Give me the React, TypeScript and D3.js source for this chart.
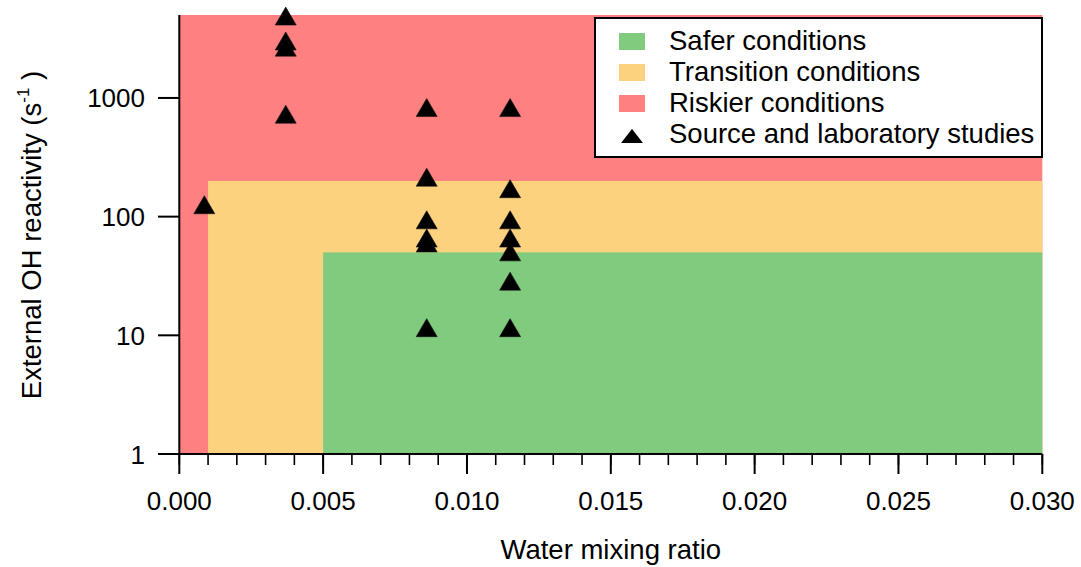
import React from "react";
import * as d3 from "d3";

// Risk zones (water mixing ratio lower bound, OH reactivity upper bound)
const zoneNames = ["Riskier conditions", "Transition conditions", "Safer conditions"];
const zoneXMin = [0, 0.001, 0.005];
const zoneYMax = [5000, 200, 50];
const zoneColors = ["#ff8080", "#fdd27f", "#80cb7e"];

// Source and laboratory studies
const studyX = [
  0.00087,
  0.0037, 0.0037, 0.0037, 0.0037,
  0.0086, 0.0086, 0.0086, 0.0086, 0.0086, 0.0086,
  0.0115, 0.0115, 0.0115, 0.0115, 0.0115, 0.0115, 0.0115,
];
const studyY = [
  126,
  4900, 3020, 2680, 730,
  830, 215, 94, 66, 60, 11.6,
  830, 172, 94, 66, 50.5, 28.6, 11.6,
];

const xMajorTicks = [0, 0.005, 0.01, 0.015, 0.02, 0.025, 0.03];
const xMinorTicks = d3.range(0, 31).map((i) => i / 1000);
const yTicks = [1, 10, 100, 1000];

const legendItems = ["Safer conditions", "Transition conditions", "Riskier conditions"];
const legendColors = ["#80cb7e", "#fdd27f", "#ff8080"];
const legendMarkerLabel = "Source and laboratory studies";

const W = 1081;
const H = 567;
const left = 179.3;
const right = 1042.3;
const top = 15;
const bottom = 454;
const font = "'Liberation Sans', Arial, Helvetica, sans-serif";

export default function App() {
  const x = d3.scaleLinear().domain([0, 0.03]).range([left, right]);
  const y = d3.scaleLog().domain([1, 5000]).range([bottom, top]);

  const tri = (cx: number, cy: number, w: number, h: number) =>
    `M${cx - w / 2},${cy + h / 2}L${cx + w / 2},${cy + h / 2}L${cx},${cy - h / 2}Z`;

  const legX = 595;
  const legY = 18;
  const legW = 447;
  const legH = 139;
  const rowBase = [50, 81, 112, 143];

  return (
    <svg
      width={W}
      height={H}
      style={{ position: "absolute", left: 0, top: 0, background: "#fff" }}
      fontFamily={font}
    >
      {/* zones */}
      {zoneNames.map((n, i) => (
        <rect
          key={n}
          x={x(zoneXMin[i])}
          y={y(zoneYMax[i])}
          width={x(0.03) - x(zoneXMin[i])}
          height={y(1) - y(zoneYMax[i])}
          fill={zoneColors[i]}
        />
      ))}

      {/* study markers */}
      {studyX.map((sx, i) => (
        <path key={i} d={tri(x(sx), y(studyY[i]), 21, 18)} fill="#000" stroke="#111" strokeWidth={0.6} />
      ))}

      {/* x axis */}
      <line x1={left} x2={right} y1={bottom} y2={bottom} stroke="#000" strokeWidth={2} />
      {xMinorTicks.map((t) => (
        <line key={"m" + t} x1={x(t)} x2={x(t)} y1={bottom} y2={bottom + 11} stroke="#000" strokeWidth={1.6} />
      ))}
      {xMajorTicks.map((t) => (
        <g key={"M" + t}>
          <line x1={x(t)} x2={x(t)} y1={bottom} y2={bottom + 20} stroke="#000" strokeWidth={2} />
          <text x={x(t)} y={510} textAnchor="middle" fontSize={26} fill="#000">
            {d3.format(".3f")(t)}
          </text>
        </g>
      ))}
      <text x={(left + right) / 2} y={559} textAnchor="middle" fontSize={27.5} fill="#000">
        Water mixing ratio
      </text>

      {/* y axis */}
      <line x1={left} x2={left} y1={top} y2={bottom} stroke="#000" strokeWidth={2} />
      {yTicks.map((t) => (
        <g key={"y" + t}>
          <line x1={158} x2={left} y1={y(t)} y2={y(t)} stroke="#000" strokeWidth={2} />
          <text x={145} y={y(t) + 9.5} textAnchor="end" fontSize={26} fill="#000">
            {d3.format("d")(t)}
          </text>
        </g>
      ))}
      <text transform="translate(41,235) rotate(-90)" textAnchor="middle" fontSize={27.5} fill="#000">
        External OH reactivity (s
        <tspan fontSize={17} dy={-12}>-1</tspan>
        <tspan dy={12}> )</tspan>
      </text>

      {/* legend */}
      <rect x={legX} y={legY} width={legW} height={legH} fill="#fff" stroke="#000" strokeWidth={2} />
      {legendItems.map((n, i) => (
        <g key={n}>
          <rect x={619} y={rowBase[i] - 17} width={26} height={17} fill={legendColors[i]} />
          <text x={669} y={rowBase[i]} fontSize={27.5} fill="#000">
            {n}
          </text>
        </g>
      ))}
      <path d={tri(632, rowBase[3] - 7, 22, 14)} fill="#000" />
      <text x={669} y={rowBase[3]} fontSize={27.5} fill="#000">
        {legendMarkerLabel}
      </text>
    </svg>
  );
}
